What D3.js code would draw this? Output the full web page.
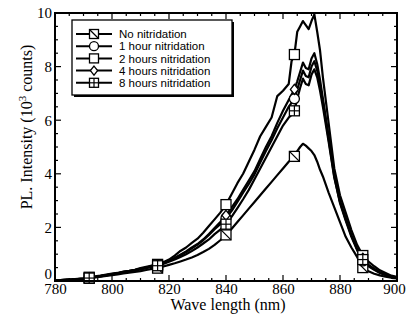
<!DOCTYPE html>
<html><head><meta charset="utf-8">
<script src="https://cdn.jsdelivr.net/npm/d3@7"></script>
<style>body{margin:0;background:#fff}svg{display:block}</style>
</head><body>
<script>
const wavelengths = [780,782,784,786,788,790,792,794,796,798,800,802,804,806,808,810,812,814,816,818,820,822,824,826,828,830,832,834,836,838,840,842,844,846,848,850,852,854,856,858,860,862,863,864,865,866,867,868,869,870,871,872,873,874,876,878,880,882,884,886,888,890,892,894,896,898,900];
const noNitridation = [0.02,0.03,0.04,0.05,0.06,0.08,0.1,0.13,0.16,0.19,0.22,0.25,0.28,0.31,0.34,0.37,0.41,0.45,0.48,0.54,0.6,0.66,0.73,0.8,0.88,0.97,1.08,1.2,1.35,1.52,1.72,1.95,2.2,2.45,2.7,2.95,3.2,3.45,3.7,3.95,4.2,4.45,4.55,4.65,4.85,5.0,5.12,5.05,4.95,4.85,4.7,4.45,4.15,3.9,3.3,2.75,2.2,1.65,1.25,0.9,0.5,0.36,0.27,0.21,0.16,0.12,0.1];
const oneHour = [0.02,0.03,0.04,0.06,0.07,0.09,0.12,0.15,0.19,0.22,0.26,0.3,0.34,0.37,0.41,0.45,0.5,0.56,0.6,0.67,0.75,0.85,0.96,1.08,1.22,1.36,1.52,1.72,1.93,2.12,2.35,2.62,2.95,3.3,3.62,3.98,4.42,4.85,5.25,5.7,6.1,6.5,6.65,6.8,7.15,7.5,7.85,7.65,7.6,8.0,8.2,7.85,7.3,6.7,5.3,3.9,2.9,2.25,1.65,1.15,0.75,0.55,0.42,0.3,0.22,0.16,0.12];
const twoHours = [0.02,0.03,0.05,0.06,0.08,0.1,0.14,0.17,0.2,0.24,0.28,0.3,0.35,0.38,0.42,0.48,0.53,0.58,0.62,0.7,0.8,0.95,1.12,1.25,1.42,1.58,1.8,2.05,2.3,2.55,2.85,3.25,3.65,4.0,4.45,4.9,5.4,5.75,6.1,6.9,7.1,7.35,8.2,8.45,9.3,9.5,9.7,9.55,9.4,9.7,9.95,9.3,8.6,7.6,5.9,4.2,3.2,2.55,1.9,1.35,0.95,0.72,0.55,0.4,0.3,0.2,0.15];
const fourHours = [0.02,0.03,0.04,0.05,0.07,0.09,0.12,0.15,0.18,0.22,0.26,0.29,0.33,0.37,0.41,0.46,0.5,0.55,0.6,0.68,0.76,0.86,0.98,1.1,1.25,1.38,1.55,1.75,1.98,2.2,2.45,2.75,3.05,3.4,3.75,4.1,4.55,5.0,5.4,5.9,6.35,6.75,6.95,7.15,7.45,7.8,8.15,7.95,7.9,8.3,8.5,8.1,7.5,6.8,5.4,4.0,3.0,2.35,1.7,1.2,0.85,0.6,0.45,0.33,0.25,0.18,0.12];
const eightHours = [0.02,0.03,0.04,0.05,0.07,0.08,0.11,0.14,0.17,0.21,0.25,0.28,0.32,0.35,0.39,0.43,0.48,0.53,0.57,0.64,0.72,0.8,0.9,1.0,1.12,1.25,1.4,1.55,1.75,1.92,2.12,2.4,2.72,3.05,3.4,3.8,4.2,4.6,5.0,5.4,5.8,6.1,6.2,6.35,6.8,7.2,7.55,7.35,7.3,7.7,7.9,7.6,7.1,6.5,5.2,3.85,2.95,2.3,1.7,1.2,0.8,0.58,0.45,0.32,0.24,0.17,0.12];
const markerWavelengths = [792,816,840,864,888];
const seriesNames = ["No nitridation","1 hour nitridation","2 hours nitridation","4 hours nitridation","8 hours nitridation"];
const seriesMarkers = ["slash","circle","square","diamond","plus"];
const xTicks = [780,800,820,840,860,880,900];
const yTicks = [0,2,4,6,8,10];
const yLabel = "PL. Intensity (10";
const xLabel = "Wave length (nm)";

const series = [noNitridation, oneHour, twoHours, fourHours, eightHours].map((vals,i)=>({
  name: seriesNames[i], marker: seriesMarkers[i],
  points: wavelengths.map((w,j)=>({x:w,y:vals[j]}))
}));

const W=407,H=332;
const L=55,R=397,T=13,B=281;
const svg=d3.select("body").append("svg").attr("width",W).attr("height",H);
const x=d3.scaleLinear().domain([780,900]).range([L,R]);
const y=d3.scaleLinear().domain([0,10]).range([B,T]);
const serif="'Liberation Serif','Times New Roman',serif";
const sans="'Liberation Sans',Arial,sans-serif";

// ticks (inward) on all sides
const g=svg.append("g");
const xMinor=d3.range(780,900.1,5), yMinor=d3.range(0,10.01,0.5);
function tk(xx1,yy1,xx2,yy2){g.append("line").attr("x1",xx1).attr("y1",yy1).attr("x2",xx2).attr("y2",yy2).attr("stroke","#000").attr("stroke-width",1.2);}
xMinor.forEach(v=>{const len = (v%20===0)?6:3; tk(x(v),B,x(v),B-len); tk(x(v),T,x(v),T+len);});
yMinor.forEach(v=>{const len = (v%2===0)?6:3; tk(L,y(v),L+len,y(v)); tk(R,y(v),R-len,y(v));});

// axes labels via d3 axes (tick lines hidden)
const xa=svg.append("g").attr("transform",`translate(0,${B})`).call(d3.axisBottom(x).tickValues(xTicks).tickSize(0).tickPadding(0));
xa.select(".domain").remove();
xa.selectAll("text").attr("font-family",serif).attr("font-size",15).attr("fill","#000").attr("y",12.5).attr("dy",0)
  .attr("dx",d=>d===900?-3:0);
const ya=svg.append("g").attr("transform",`translate(${L},0)`).call(d3.axisLeft(y).tickValues(yTicks).tickSize(0).tickPadding(3));
ya.select(".domain").remove();
ya.selectAll("text").attr("font-family",serif).attr("font-size",15).attr("fill","#000").attr("dy",d=>d===0?"-0.2em":"0.32em");

// curves
const line=d3.line().x(d=>x(d.x)).y(d=>y(d.y));
svg.append("clipPath").attr("id","c").append("rect").attr("x",L).attr("y",T-2).attr("width",R-L).attr("height",B-T+2);
const cg=svg.append("g").attr("clip-path","url(#c)");
series.forEach(s=>{
  cg.append("path").datum(s.points).attr("d",line).attr("fill","none").attr("stroke","#000").attr("stroke-width",2.2).attr("stroke-linejoin","round");
});

function drawMarker(sel,type,cx,cy,sz){
  const h=sz/2;
  const m=sel.append("g").attr("transform",`translate(${cx},${cy})`);
  const st=(e)=>e.attr("fill","#fff").attr("stroke","#000").attr("stroke-width",1.3);
  if(type==="circle") st(m.append("circle").attr("r",h));
  else if(type==="diamond") st(m.append("path").attr("d",`M0,${-h}L${h*0.8},0L0,${h}L${-h*0.8},0Z`));
  else {
    st(m.append("rect").attr("x",-h).attr("y",-h).attr("width",sz).attr("height",sz));
    if(type==="slash") m.append("line").attr("x1",-h).attr("y1",-h).attr("x2",h).attr("y2",h).attr("stroke","#000").attr("stroke-width",1.3);
    if(type==="plus"){
      m.append("line").attr("x1",-h).attr("y1",0).attr("x2",h).attr("y2",0).attr("stroke","#000").attr("stroke-width",1.2);
      m.append("line").attr("x1",0).attr("y1",-h).attr("x2",0).attr("y2",h).attr("stroke","#000").attr("stroke-width",1.2);
    }
  }
}
const mg=svg.append("g");
series.forEach(s=>{
  markerWavelengths.forEach(w=>{
    const p=s.points.find(d=>d.x===w);
    drawMarker(mg,s.marker,x(p.x),y(p.y),10);
  });
});

// frame
svg.append("rect").attr("x",L).attr("y",T).attr("width",R-L).attr("height",B-T).attr("fill","none").attr("stroke","#000").attr("stroke-width",2);

// legend
const lx=72,ly=20,lw=160,lh=75;
svg.append("rect").attr("x",lx+2).attr("y",ly+2).attr("width",lw).attr("height",lh).attr("fill","#000");
svg.append("rect").attr("x",lx).attr("y",ly).attr("width",lw).attr("height",lh).attr("fill","#fff").attr("stroke","#000").attr("stroke-width",1.3);
series.forEach((s,i)=>{
  const yy=ly+14+i*12.2;
  svg.append("line").attr("x1",lx+4).attr("x2",lx+40).attr("y1",yy).attr("y2",yy).attr("stroke","#000").attr("stroke-width",2);
  drawMarker(svg,s.marker,lx+22,yy,9);
  svg.append("text").attr("x",lx+47).attr("y",yy).attr("dy","0.36em").attr("font-family",sans).attr("font-size",11.5).attr("fill","#000").text(s.name);
});

// axis titles
svg.append("text").attr("x",(L+R)/2+2).attr("y",310).attr("text-anchor","middle").attr("font-family",serif).attr("font-size",16).text(xLabel);
const yt=svg.append("text").attr("transform",`translate(32,127) rotate(-90)`).attr("text-anchor","middle").attr("font-family",serif).attr("font-size",16);
yt.append("tspan").text(yLabel);
yt.append("tspan").attr("dy",-6).attr("font-size",11).text("3");
yt.append("tspan").attr("dy",6).text(" counts)");
</script>
</body></html>
